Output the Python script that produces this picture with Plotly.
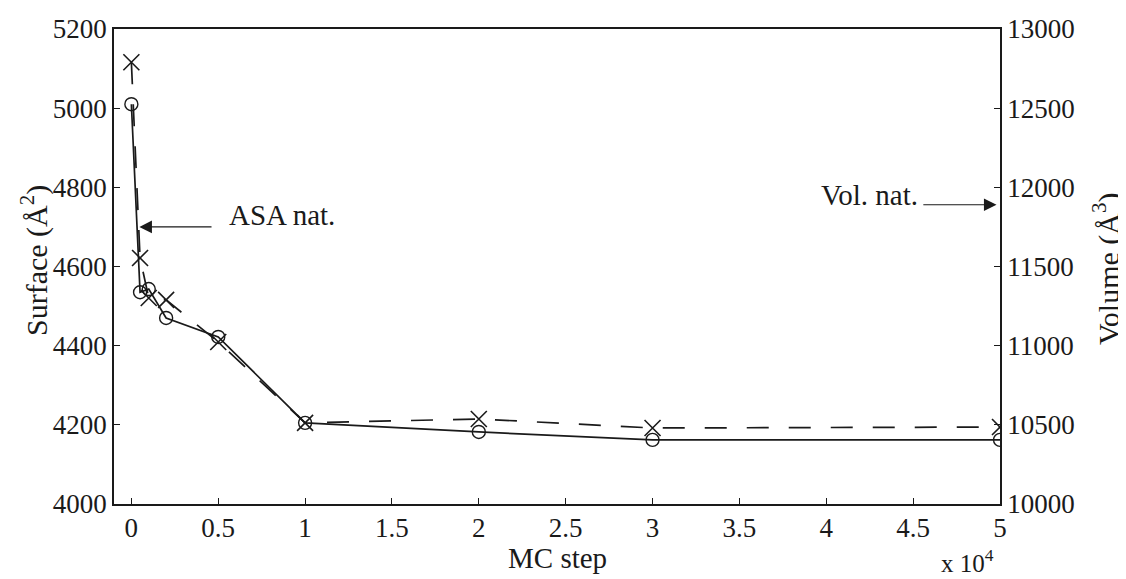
import plotly.graph_objects as go

# MC steps (in units of 10^4)
mc_step = [0, 0.05, 0.1, 0.2, 0.5, 1, 2, 3, 5]
surface = [5010, 4535, 4543, 4470, 4422, 4205, 4182, 4162, 4162]
volume = [12790, 11554, 11301, 11289, 11023, 10512, 10537, 10480, 10486]

asa_nat = 4700
vol_nat = 11890

x_ticks = [0, 0.5, 1, 1.5, 2, 2.5, 3, 3.5, 4, 4.5, 5]
y1_ticks = [4000, 4200, 4400, 4600, 4800, 5000, 5200]
y2_ticks = [10000, 10500, 11000, 11500, 12000, 12500, 13000]

FONT = "Liberation Serif, Times New Roman, serif"
INK = "#1a1a1a"

# plot area in screen pixels (page body has an 8px margin)
PX0, PX1, PY0, PY1 = 114, 1000, 29, 504
W, H = 1118, 571


def px(xs):
    return (xs - PX0) / (PX1 - PX0)


def py(ys):
    return (PY1 - ys) / (PY1 - PY0)


fig = go.Figure()

fig.add_trace(go.Scatter(
    x=mc_step, y=surface, mode="lines+markers", name="Surface",
    line=dict(color=INK, width=1.7),
    marker=dict(symbol="circle-open", size=13, color=INK, line=dict(width=1.4)),
    yaxis="y", showlegend=False))

fig.add_trace(go.Scatter(
    x=mc_step, y=volume, mode="lines+markers", name="Volume",
    line=dict(color=INK, width=1.7, dash="22px,20px"),
    marker=dict(symbol="x-thin-open", size=16, color=INK, line=dict(width=1.6, color=INK)),
    yaxis="y2", showlegend=False))

# ASA nat. arrow
fig.add_annotation(x=0.046, y=asa_nat, xref="x", yref="y",
                   ax=0.47, ay=asa_nat, axref="x", ayref="y",
                   text="", showarrow=True, arrowhead=2, arrowsize=2.1,
                   arrowwidth=1.2, arrowcolor=INK)
fig.add_annotation(x=0.55, y=asa_nat + 30, xref="x", yref="y",
                   text="ASA nat.", showarrow=False, xanchor="left", yanchor="middle",
                   font=dict(family=FONT, size=29, color=INK))

# Vol. nat. arrow
fig.add_annotation(x=4.98, y=vol_nat, xref="x", yref="y2",
                   ax=4.55, ay=vol_nat, axref="x", ayref="y2",
                   text="", showarrow=True, arrowhead=2, arrowsize=2.1,
                   arrowwidth=1.2, arrowcolor=INK)
fig.add_annotation(x=4.54, y=vol_nat + 60, xref="x", yref="y2",
                   text="Vol. nat.", showarrow=False, xanchor="right", yanchor="middle",
                   font=dict(family=FONT, size=29, color=INK))

# axis titles and exponent label
fig.add_annotation(x=px(967), y=py(561), xref="paper", yref="paper",
                   text="x 10<sup>4</sup>", showarrow=False, xanchor="center", yanchor="middle",
                   font=dict(family=FONT, size=25, color=INK))
fig.add_annotation(x=px(557), y=py(558), xref="paper", yref="paper",
                   text="MC step", showarrow=False, xanchor="center", yanchor="middle",
                   font=dict(family=FONT, size=29, color=INK))
fig.add_annotation(x=px(34), y=py(261), xref="paper", yref="paper",
                   text="Surface (Å<sup>2</sup>)", showarrow=False, textangle=-90,
                   xanchor="center", yanchor="middle",
                   font=dict(family=FONT, size=30, color=INK))
fig.add_annotation(x=px(1106), y=py(269), xref="paper", yref="paper",
                   text="Volume (Å<sup>3</sup>)", showarrow=False, textangle=-90,
                   xanchor="center", yanchor="middle",
                   font=dict(family=FONT, size=30, color=INK))

axis_common = dict(showline=True, linecolor=INK, linewidth=1.6, ticks="inside",
                   ticklen=6, tickcolor=INK, tickwidth=1.3, showgrid=False,
                   zeroline=False, automargin=False,
                   tickfont=dict(family=FONT, size=27, color=INK))

fig.update_layout(
    width=W, height=H,
    margin=dict(l=PX0 - 8, r=W + 8 - PX1, t=PY0 - 8, b=H + 8 - PY1),
    paper_bgcolor="white", plot_bgcolor="white",
    xaxis=dict(range=[-0.1, 5], tickvals=x_ticks, ticktext=[f"{v:g}" for v in x_ticks],
               mirror=True, ticklabelstandoff=-1, **axis_common),
    yaxis=dict(range=[4000, 5200], tickvals=y1_ticks, ticktext=[str(v) for v in y1_ticks],
               **axis_common),
    yaxis2=dict(range=[10000, 13000], tickvals=y2_ticks, ticktext=[str(v) for v in y2_ticks],
                overlaying="y", side="right", **axis_common),
)

fig.write_html("out.html")
